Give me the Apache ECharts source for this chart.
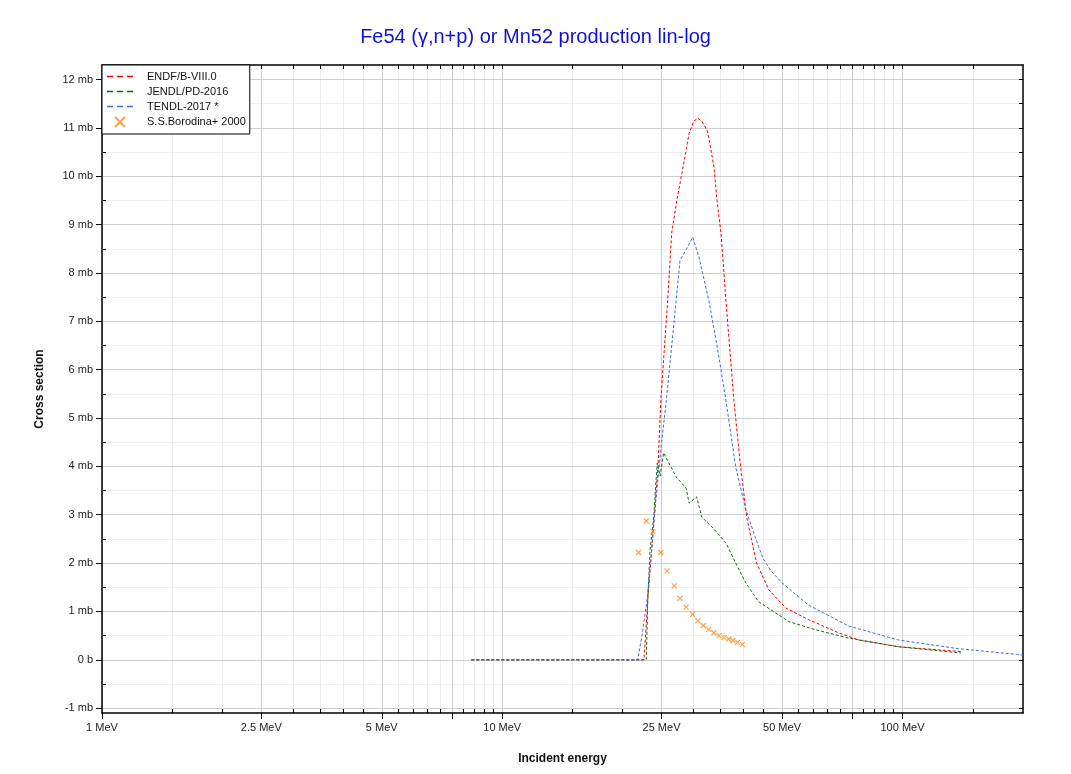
<!DOCTYPE html>
<html>
<head>
<meta charset="utf-8">
<script src="https://cdn.jsdelivr.net/npm/echarts@6/dist/echarts.min.js"></script>
<style>
html,body{margin:0;padding:0;background:#fff;}
#chart{width:1071px;height:774px;}
</style>
</head>
<body>
<div id="chart"></div>
<script>
// ---- data (energy in MeV, cross section in mb) ----
const endfE  = [8.37, 22.6, 23.1, 23.8, 24.5, 24.9, 25.9, 26.5, 27.3, 28.3, 29.3, 30.1, 30.8, 31.5, 32.5, 33.0, 33.8, 34.4, 35.2, 36.2, 37.9, 39.4, 40.8, 42.5, 43.2, 45.5, 46.3, 51.1, 58.3, 69.2, 77.6, 97.7, 140];
const endfXS = [0, 0, 1.24, 2.62, 3.99, 5.37, 7.44, 8.82, 9.5, 10.19, 10.89, 11.14, 11.2, 11.14, 10.95, 10.68, 10.19, 9.5, 8.82, 7.44, 5.37, 3.99, 2.95, 2.27, 2.0, 1.59, 1.45, 1.07, 0.83, 0.56, 0.41, 0.27, 0.17];

const jendlE  = [8.37, 22.9, 23.1, 23.4, 23.9, 24.2, 24.4, 24.8, 25.3, 27.2, 28.8, 29.3, 30.6, 31.5, 33.4, 36.2, 38.3, 40.6, 43.7, 48.2, 52.0, 60.7, 73.3, 97.7, 140];
const jendlXS = [0, 0, 1.24, 2.27, 2.95, 3.66, 4.07, 3.8, 4.28, 3.78, 3.55, 3.24, 3.37, 2.95, 2.75, 2.42, 2.0, 1.59, 1.2, 0.97, 0.79, 0.62, 0.45, 0.27, 0.14];

const tendlE  = [8.37, 21.8, 22.4, 23.0, 23.5, 24.2, 24.9, 25.7, 27.2, 27.8, 28.9, 29.9, 31.0, 32.8, 34.4, 36.2, 38.3, 40.6, 43.0, 44.8, 46.8, 49.9, 55.0, 58.3, 73.3, 97.7, 138, 200];
const tendlXS = [0, 0, 0.56, 1.24, 2.07, 3.3, 4.34, 5.37, 7.44, 8.26, 8.5, 8.74, 8.33, 7.44, 6.5, 5.37, 3.99, 3.1, 2.5, 2.1, 1.85, 1.6, 1.3, 1.13, 0.7, 0.41, 0.23, 0.10];

const expE  = [21.9, 22.9, 23.8, 24.9, 25.8, 26.9, 27.8, 28.8, 29.9, 30.8, 31.8, 32.8, 33.8, 34.8, 35.8, 36.8, 37.7, 38.7, 39.8];
const expXS = [2.22, 2.87, 2.65, 2.22, 1.84, 1.53, 1.27, 1.09, 0.94, 0.81, 0.71, 0.63, 0.56, 0.50, 0.46, 0.43, 0.40, 0.36, 0.32];

const seriesNames = ['ENDF/B-VIII.0', 'JENDL/PD-2016', 'TENDL-2017 *', 'S.S.Borodina+ 2000'];

// ---- tick values ----
const xMajorTicks = [1, 2.5, 5, 7.5, 10, 25, 50, 75, 100];
const xLabelTicks = [1, 2.5, 5, 10, 25, 50, 100];
const xMinorTicks = [1.5, 2, 3, 3.5, 4, 4.5, 5.5, 6, 6.5, 7, 8, 8.5, 9, 9.5, 15, 20, 30, 35, 40, 45, 55, 60, 65, 70, 80, 85, 90, 95, 150];
const yMajorTicks = [-1, 0, 1, 2, 3, 4, 5, 6, 7, 8, 9, 10, 11, 12];
const yMinorTicks = [-0.5, 0.5, 1.5, 2.5, 3.5, 4.5, 5.5, 6.5, 7.5, 8.5, 9.5, 10.5, 11.5];

const zip = (a, b) => a.map((v, i) => [v, b[i]]);
const allX = xMajorTicks.concat(xMinorTicks).sort((a, b) => a - b);
const allY = yMajorTicks.concat(yMinorTicks).sort((a, b) => a - b);

const FONT = "'Liberation Sans', Arial, sans-serif";
const DASH_ICON = 'path://M0,0h6v1.6h-6z M10,0h6v1.6h-6z M20,0h6v1.6h-6z';
const CROSS_ICON = 'path://M0,0L10,10M10,0L0,10';
const chart = echarts.init(document.getElementById('chart'), null, {renderer: 'canvas'});

const lineSeries = (name, data, color) => ({
  name, type: 'line', data, xAxisIndex: 0, yAxisIndex: 0,
  showSymbol: false, symbol: 'none', smooth: false,
  lineStyle: {color, width: 1, type: [3, 2]},
  itemStyle: {color},
  z: 5
});

const xBase = {type: 'log', logBase: 10, min: 1, max: 200, gridIndex: 0};
const yBase = {type: 'value', min: -1.1, max: 12.3, gridIndex: 0};

chart.setOption({
  backgroundColor: '#fff',
  animation: false,
  textStyle: {fontFamily: FONT},
  title: {
    text: 'Fe54 (\u03b3,n+p) or Mn52 production lin-log',
    left: 'center', top: 22,
    textStyle: {color: '#1212d2', fontSize: 20, fontWeight: 'normal', fontFamily: FONT}
  },
  grid: {left: 102, right: 48, top: 65, bottom: 61, containLabel: false},
  legend: {
    orient: 'vertical', left: 102, top: 65,
    padding: [6, 4, 6, 5], itemGap: 4, itemWidth: 26, itemHeight: 10,
    borderColor: '#000', borderWidth: 1, backgroundColor: '#fff',
    textStyle: {fontSize: 11, color: '#111', fontFamily: FONT, padding: [0, 0, 0, 9]},
    data: [
      {name: seriesNames[0], icon: DASH_ICON, itemStyle: {color: '#ff0000'}},
      {name: seriesNames[1], icon: DASH_ICON, itemStyle: {color: '#0b6e0b'}},
      {name: seriesNames[2], icon: DASH_ICON, itemStyle: {color: '#4169e1'}},
      {name: seriesNames[3], icon: CROSS_ICON}
    ],
    z: 10
  },
  xAxis: [
    Object.assign({}, xBase, {
      position: 'bottom', z: 2,
      name: 'Incident energy', nameLocation: 'middle', nameGap: 40,
      nameTextStyle: {fontWeight: 'bold', fontSize: 12, color: '#111', fontFamily: FONT},
      axisLine: {show: true, onZero: false, lineStyle: {color: '#000', width: 1.5}},
      axisTick: {show: true, customValues: xMajorTicks, inside: false, length: 6, lineStyle: {color: '#000'}},
      axisLabel: {show: true, customValues: xLabelTicks, margin: 9, fontSize: 11, color: '#222',
        formatter: v => v + ' MeV'},
      splitLine: {show: true, lineStyle: {color: '#cfcfcf', width: 1}},
      minorTick: {show: false}, minorSplitLine: {show: false}
    }),
    Object.assign({}, xBase, {
      position: 'bottom', z: 1,
      axisLine: {show: false, onZero: false},
      axisTick: {show: true, customValues: allX, inside: true, length: 4, lineStyle: {color: '#000'}},
      axisLabel: {show: false},
      splitLine: {show: true, lineStyle: {color: '#eeeeee', width: 1}}
    }),
    Object.assign({}, xBase, {
      position: 'top', z: 2,
      axisLine: {show: true, onZero: false, lineStyle: {color: '#000', width: 1.5}},
      axisTick: {show: true, customValues: allX, inside: true, length: 4, lineStyle: {color: '#000'}},
      axisLabel: {show: false},
      splitLine: {show: false}
    })
  ],
  yAxis: [
    Object.assign({}, yBase, {
      position: 'left', z: 2,
      name: 'Cross section', nameLocation: 'middle', nameGap: 56, nameRotate: 90,
      nameTextStyle: {fontWeight: 'bold', fontSize: 12, color: '#111', fontFamily: FONT},
      axisLine: {show: true, onZero: false, lineStyle: {color: '#000', width: 1.5}},
      axisTick: {show: true, customValues: yMajorTicks, inside: false, length: 6, lineStyle: {color: '#000'}},
      axisLabel: {show: true, customValues: yMajorTicks, margin: 9, fontSize: 11, color: '#222',
        formatter: v => (v === 0 ? '0 b' : v + ' mb')},
      splitLine: {show: true, lineStyle: {color: '#cfcfcf', width: 1}}
    }),
    Object.assign({}, yBase, {
      position: 'left', z: 1,
      axisLine: {show: false, onZero: false},
      axisTick: {show: true, customValues: allY, inside: true, length: 4, lineStyle: {color: '#000'}},
      axisLabel: {show: false},
      splitLine: {show: true, lineStyle: {color: '#eeeeee', width: 1}}
    }),
    Object.assign({}, yBase, {
      position: 'right', z: 2,
      axisLine: {show: true, onZero: false, lineStyle: {color: '#000', width: 1.5}},
      axisTick: {show: true, customValues: allY, inside: true, length: 4, lineStyle: {color: '#000'}},
      axisLabel: {show: false},
      splitLine: {show: false}
    })
  ],
  series: [
    lineSeries(seriesNames[0], zip(endfE, endfXS), '#ff0000'),
    lineSeries(seriesNames[1], zip(jendlE, jendlXS), '#0b6e0b'),
    lineSeries(seriesNames[2], zip(tendlE, tendlXS), '#4169e1'),
    {
      name: seriesNames[3], type: 'scatter', xAxisIndex: 0, yAxisIndex: 0,
      data: zip(expE, expXS),
      symbol: CROSS_ICON, symbolSize: 5,
      itemStyle: {color: 'rgba(0,0,0,0)', borderColor: '#ff8c1a', borderWidth: 1.2},
      z: 6
    }
  ]
});
</script>
</body>
</html>
